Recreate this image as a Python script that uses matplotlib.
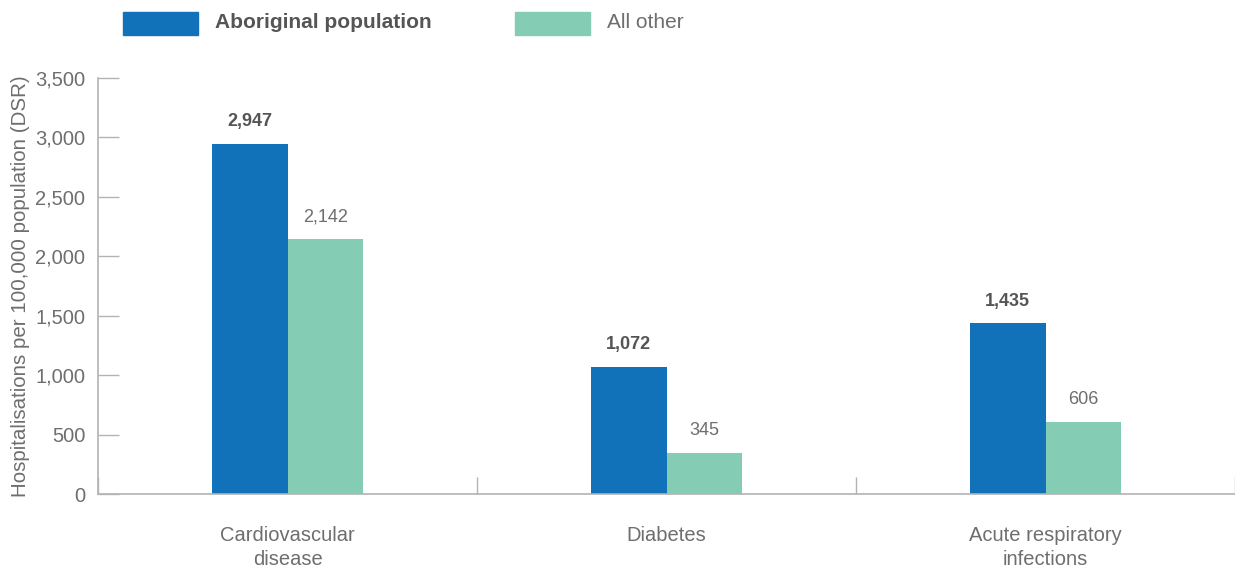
import matplotlib.pyplot as plt
from matplotlib.patches import Rectangle

plt.rcParams['font.family'] = ['Liberation Sans', 'DejaVu Sans']

# Dados
categorias = ['Cardiovascular\ndisease', 'Diabetes', 'Acute respiratory\ninfections']
aboriginal = [2947, 1072, 1435]
outros = [2142, 345, 606]
series = ['Aboriginal population', 'All other']
yticks = [0, 500, 1000, 1500, 2000, 2500, 3000, 3500]

azul = '#1172b9'
verde = '#84cdb4'
cinza = '#b3b3b3'
texto = '#6e6e6e'

fig = plt.figure(figsize=(12.35, 5.72), dpi=100)
ax = fig.add_axes([98/1235, 78/572, 1 - 98/1235, 416/572])

larg = 0.2
x = range(len(categorias))
b1 = ax.bar([i - larg/2 for i in x], aboriginal, larg, color=azul, zorder=2)
b2 = ax.bar([i + larg/2 for i in x], outros, larg, color=verde, zorder=2)

for r, v in zip(b1, aboriginal):
    ax.annotate(f'{v:,}', (r.get_x() + r.get_width()/2, v), xytext=(0, 10),
                textcoords='offset points', ha='center', va='bottom',
                fontsize=13, fontweight='bold', color='#555555')
for r, v in zip(b2, outros):
    ax.annotate(f'{v:,}', (r.get_x() + r.get_width()/2, v), xytext=(0, 10),
                textcoords='offset points', ha='center', va='bottom',
                fontsize=13, color=texto)

ax.set_xlim(-0.5, 2.5)
ax.set_ylim(0, 3500)
ax.set_yticks(yticks)
ax.set_yticklabels([f'{t:,}' for t in yticks])
ax.set_xticks([-0.5, 0.5, 1.5, 2.5])
ax.set_xticklabels([])
ax.tick_params(axis='y', direction='in', length=15, width=1, color=cinza,
               labelsize=14.5, labelcolor=texto, pad=9)
ax.tick_params(axis='x', direction='in', length=12, width=1, color=cinza)

for i, c in enumerate(categorias):
    ax.text(i, -270, c, ha='center', va='top', fontsize=14.5,
            color=texto, linespacing=1.35)

for s in ['top', 'right']:
    ax.spines[s].set_visible(False)
for s in ['left', 'bottom']:
    ax.spines[s].set_color(cinza)
    ax.spines[s].set_linewidth(1.2)

ax.set_ylabel('Hospitalisations per 100,000 population (DSR)', fontsize=14.8,
              color=texto)
ax.yaxis.set_label_coords(-0.06, 0.5)

# Legenda manual
fig.patches.append(Rectangle((123/1235, 1 - 35/572), 75/1235, 23/572,
                             transform=fig.transFigure, color=azul))
fig.text(215/1235, 1 - 23/572, series[0], ha='left', va='center', fontsize=15,
         fontweight='bold', color='#555555')
fig.patches.append(Rectangle((515/1235, 1 - 35/572), 75/1235, 23/572,
                             transform=fig.transFigure, color=verde))
fig.text(607/1235, 1 - 23/572, series[1], ha='left', va='center', fontsize=15,
         color=texto)

plt.savefig('out.png', dpi=100)
